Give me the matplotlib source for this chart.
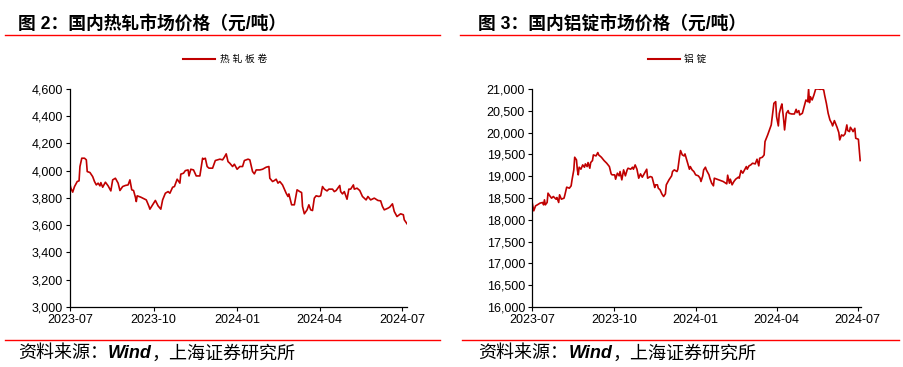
import numpy as np
import pandas as pd
import matplotlib
matplotlib.use("Agg")
from matplotlib import pyplot as plt
import matplotlib.dates as mdates
from matplotlib.lines import Line2D
from matplotlib.text import Annotation
from matplotlib.ticker import FuncFormatter

# 热轧板卷 (元/吨)
hr_dates = [
    "2023-07-01", "2023-07-02", "2023-07-04", "2023-07-06", "2023-07-09", "2023-07-11",
    "2023-07-12", "2023-07-14", "2023-07-17", "2023-07-19", "2023-07-20", "2023-07-23",
    "2023-07-26", "2023-07-28", "2023-07-30", "2023-08-01", "2023-08-03", "2023-08-04",
    "2023-08-06", "2023-08-09", "2023-08-12", "2023-08-15", "2023-08-17", "2023-08-20",
    "2023-08-23", "2023-08-25", "2023-08-28", "2023-08-31", "2023-09-03", "2023-09-05",
    "2023-09-07", "2023-09-09", "2023-09-11", "2023-09-12", "2023-09-13", "2023-09-17",
    "2023-09-23", "2023-09-26", "2023-09-27", "2023-09-30", "2023-10-03", "2023-10-06",
    "2023-10-09", "2023-10-11", "2023-10-14", "2023-10-17", "2023-10-19", "2023-10-22",
    "2023-10-24", "2023-10-27", "2023-10-30", "2023-10-31", "2023-11-03", "2023-11-05",
    "2023-11-08", "2023-11-09", "2023-11-11", "2023-11-14", "2023-11-17", "2023-11-21",
    "2023-11-22", "2023-11-24", "2023-11-25", "2023-11-27", "2023-11-29", "2023-12-01",
    "2023-12-05", "2023-12-08", "2023-12-13", "2023-12-16", "2023-12-18", "2023-12-20",
    "2023-12-22", "2023-12-24", "2023-12-27", "2023-12-29", "2024-01-01", "2024-01-04",
    "2024-01-07", "2024-01-09", "2024-01-13", "2024-01-15", "2024-01-18", "2024-01-20",
    "2024-01-22", "2024-01-26", "2024-01-29", "2024-02-02", "2024-02-05", "2024-02-06",
    "2024-02-09", "2024-02-11", "2024-02-13", "2024-02-15", "2024-02-17", "2024-02-20",
    "2024-02-24", "2024-02-26", "2024-02-27", "2024-03-01", "2024-03-04", "2024-03-07",
    "2024-03-10", "2024-03-12", "2024-03-13", "2024-03-15", "2024-03-18", "2024-03-20",
    "2024-03-22", "2024-03-24", "2024-03-26", "2024-03-28", "2024-03-31", "2024-04-02",
    "2024-04-04", "2024-04-06", "2024-04-09", "2024-04-11", "2024-04-15", "2024-04-17",
    "2024-04-19", "2024-04-23", "2024-04-24", "2024-04-26", "2024-04-28", "2024-05-01",
    "2024-05-03", "2024-05-05", "2024-05-08", "2024-05-09", "2024-05-12", "2024-05-15",
    "2024-05-18", "2024-05-22", "2024-05-24", "2024-05-27", "2024-05-31", "2024-06-04",
    "2024-06-07", "2024-06-09", "2024-06-11", "2024-06-15", "2024-06-17", "2024-06-20",
    "2024-06-22", "2024-06-25", "2024-06-27", "2024-06-29", "2024-07-02", "2024-07-03",
    "2024-07-06",
]
hr_price = [
    3901, 3872, 3843, 3884, 3921, 3926, 4031, 4092, 4092, 4080, 3994, 3987,
    3957, 3921, 3896, 3909, 3889, 3913, 3879, 3916, 3889, 3852, 3933, 3945,
    3909, 3855, 3884, 3892, 3896, 3933, 3860, 3855, 3806, 3774, 3816, 3806,
    3786, 3738, 3718, 3750, 3782, 3742, 3718, 3786, 3835, 3847, 3835, 3879,
    3884, 3938, 3909, 3975, 3982, 4001, 4006, 3962, 4011, 4006, 3962, 3962,
    4006, 4092, 4085, 4092, 4031, 4019, 4019, 4075, 4085, 4080, 4100, 4124,
    4067, 4055, 4031, 4048, 4011, 4031, 4031, 4075, 4085, 4080, 3994, 3977,
    4006, 4006, 4011, 4026, 4031, 3945, 3921, 3928, 3938, 3909, 3921, 3896,
    3835, 3811, 3830, 3750, 3750, 3860, 3847, 3840, 3738, 3684, 3713, 3750,
    3713, 3708, 3799, 3816, 3811, 3816, 3884, 3865, 3852, 3865, 3865, 3847,
    3855, 3892, 3847, 3830, 3847, 3791, 3865, 3865, 3896, 3865, 3872, 3855,
    3811, 3786, 3811, 3786, 3799, 3782, 3779, 3738, 3713, 3725, 3733, 3757,
    3701, 3664, 3674, 3684, 3677, 3640, 3611,
]

# 铝锭 (元/吨)
al_dates = [
    "2023-07-01", "2023-07-02", "2023-07-03", "2023-07-05", "2023-07-07", "2023-07-10",
    "2023-07-13", "2023-07-14", "2023-07-15", "2023-07-16", "2023-07-18", "2023-07-19",
    "2023-07-21", "2023-07-23", "2023-07-25", "2023-07-28", "2023-07-29", "2023-07-31",
    "2023-08-01", "2023-08-03", "2023-08-06", "2023-08-07", "2023-08-09", "2023-08-12",
    "2023-08-14", "2023-08-15", "2023-08-17", "2023-08-18", "2023-08-20", "2023-08-21",
    "2023-08-22", "2023-08-23", "2023-08-25", "2023-08-27", "2023-08-29", "2023-08-30",
    "2023-09-01", "2023-09-02", "2023-09-04", "2023-09-05", "2023-09-07", "2023-09-08",
    "2023-09-11", "2023-09-13", "2023-09-14", "2023-09-17", "2023-09-20", "2023-09-23",
    "2023-09-26", "2023-09-28", "2023-09-29", "2023-10-02", "2023-10-03", "2023-10-05",
    "2023-10-07", "2023-10-08", "2023-10-10", "2023-10-12", "2023-10-14", "2023-10-16",
    "2023-10-17", "2023-10-20", "2023-10-22", "2023-10-23", "2023-10-25", "2023-10-27",
    "2023-10-29", "2023-10-31", "2023-11-02", "2023-11-05", "2023-11-07", "2023-11-08",
    "2023-11-11", "2023-11-13", "2023-11-14", "2023-11-16", "2023-11-17", "2023-11-19",
    "2023-11-20", "2023-11-22", "2023-11-24", "2023-11-26", "2023-11-28", "2023-11-29",
    "2023-12-02", "2023-12-05", "2023-12-06", "2023-12-08", "2023-12-11", "2023-12-12",
    "2023-12-14", "2023-12-15", "2023-12-17", "2023-12-19", "2023-12-20", "2023-12-22",
    "2023-12-23", "2023-12-25", "2023-12-26", "2023-12-28", "2023-12-30", "2024-01-01",
    "2024-01-04", "2024-01-06", "2024-01-07", "2024-01-09", "2024-01-10", "2024-01-12",
    "2024-01-13", "2024-01-16", "2024-01-17", "2024-01-19", "2024-01-21", "2024-01-22",
    "2024-01-27", "2024-02-01", "2024-02-05", "2024-02-06", "2024-02-08", "2024-02-09",
    "2024-02-11", "2024-02-13", "2024-02-15", "2024-02-18", "2024-02-19", "2024-02-21",
    "2024-02-23", "2024-02-25", "2024-02-27", "2024-02-28", "2024-03-01", "2024-03-03",
    "2024-03-05", "2024-03-08", "2024-03-10", "2024-03-12", "2024-03-13", "2024-03-16",
    "2024-03-18", "2024-03-19", "2024-03-22", "2024-03-24", "2024-03-26", "2024-03-28",
    "2024-03-29", "2024-03-31", "2024-04-01", "2024-04-03", "2024-04-04", "2024-04-06",
    "2024-04-07", "2024-04-09", "2024-04-10", "2024-04-11", "2024-04-12", "2024-04-14",
    "2024-04-15", "2024-04-18", "2024-04-21", "2024-04-23", "2024-04-24", "2024-04-26",
    "2024-04-27", "2024-04-30", "2024-05-03", "2024-05-04", "2024-05-06", "2024-05-07",
    "2024-05-08", "2024-05-09", "2024-05-11", "2024-05-13", "2024-05-15", "2024-05-18",
    "2024-05-20", "2024-05-22", "2024-05-24", "2024-05-25", "2024-05-27", "2024-05-29",
    "2024-05-31", "2024-06-02", "2024-06-03", "2024-06-05", "2024-06-08", "2024-06-10",
    "2024-06-11", "2024-06-13", "2024-06-15", "2024-06-17", "2024-06-19", "2024-06-20",
    "2024-06-22", "2024-06-23", "2024-06-25", "2024-06-26", "2024-06-28", "2024-06-29",
    "2024-07-02", "2024-07-03", "2024-07-04",
]
al_price = [
    18420, 18305, 18206, 18320, 18343, 18382, 18397, 18343, 18458, 18343, 18397, 18611,
    18550, 18496, 18534, 18473, 18511, 18397, 18573, 18473, 18496, 18573, 18748, 18725,
    18779, 18916, 19145, 19435, 19374, 19145, 19031, 19206, 19160, 19259, 19206, 19282,
    19221, 19313, 19183, 19313, 19359, 19488, 19465, 19542, 19488, 19435, 19359, 19298,
    19221, 19053, 19031, 19031, 18931, 19069, 19008, 19107, 18916, 19145, 19008, 19145,
    19183, 19160, 19206, 19160, 19259, 19160, 18954, 19053, 18977, 19084, 19160, 18954,
    18992, 18977, 18901, 18740, 18802, 18802, 18725, 18687, 18595, 18534, 18595, 18802,
    18916, 19008, 19107, 19145, 19107, 19160, 19465, 19588, 19488, 19465, 19511, 19374,
    19313, 19160, 19221, 19145, 19107, 19031, 19008, 18954, 18878, 19008, 19145, 19206,
    19145, 19031, 18954, 18840, 18779, 18954, 18916, 18878, 18824, 19023, 18840, 18931,
    18802, 18878, 18931, 18977, 18954, 19130, 19069, 19145, 19221, 19160, 19237, 19259,
    19298, 19282, 19389, 19237, 19412, 19435, 19488, 19794, 19947, 20061, 20176, 20519,
    20672, 20710, 20366, 20153, 20435, 20595, 20657, 20290, 20061, 20252, 20443, 20504,
    20443, 20427, 20427, 20534, 20458, 20504, 20405, 20443, 20672, 20748, 20710, 21000,
    20687, 20824, 20748, 20863, 21000, 21000, 20992, 21000, 20977, 20863, 20672, 20443,
    20290, 20214, 20153, 20275, 20122, 20000, 19832, 19947, 19924, 19970, 20176, 20046,
    20023, 20122, 20061, 20023, 20099, 19870, 19847, 19603, 19359,
]

quarter_ticks = ["2023-07-01", "2023-10-01", "2024-01-01", "2024-04-01", "2024-07-01"]

plt.rcParams['font.family'] = ['Liberation Sans', 'Noto Sans CJK SC', 'DejaVu Sans']

LINE_RED = '#c00000'
RULE_RED = '#ff0000'

fig = plt.figure(figsize=(9.04, 3.67), dpi=100)


def draw_panel(left, width, dates, values, ylim, ystep, xend):
    ax = fig.add_axes([left, 0.1635, width, 0.594])
    x = pd.to_datetime(dates)
    ax.plot(x, values, '-', color=LINE_RED, linewidth=1.2)
    ax.set_xlim(pd.Timestamp("2023-07-01"), pd.Timestamp(xend))
    ax.set_ylim(*ylim)
    ax.set_yticks(np.arange(ylim[0], ylim[1] + 1, ystep))
    ax.yaxis.set_major_formatter(FuncFormatter(lambda v, p: f"{int(v):,}"))
    ax.set_xticks(pd.to_datetime(quarter_ticks))
    ax.xaxis.set_major_formatter(mdates.DateFormatter("%Y-%m"))
    for s in ['top', 'right']:
        ax.spines[s].set_visible(False)
    for s in ['left', 'bottom']:
        ax.spines[s].set_linewidth(0.9)
    ax.tick_params(axis='both', direction='out', length=3, width=0.8,
                   labelsize=9, colors='black', pad=2)
    return ax


def source_line(x):
    # 资料来源 line: CJK parts plain, "Wind" bold italic
    t1 = fig.text(x, 0.036, "资料来源：", fontsize=13, va='center', ha='left')
    t2 = Annotation("Wind", xy=(1, 0.5), xycoords=t1, xytext=(0, 0),
                    textcoords='offset points', fontsize=13, fontweight='bold',
                    style='italic', va='center', ha='left')
    fig.add_artist(t2)
    t3 = Annotation("，上海证券研究所", xy=(1, 0.5), xycoords=t2, xytext=(0, 0),
                    textcoords='offset points', fontsize=13, va='center', ha='left')
    fig.add_artist(t3)


draw_panel(0.0774, 0.3728, hr_dates, hr_price, (3000, 4600), 200, "2024-07-06")
draw_panel(0.5885, 0.3640, al_dates, al_price, (16000, 21000), 500, "2024-07-05")

# titles and rules
fig.text(0.020, 0.935, "图 2：国内热轧市场价格（元/吨）", fontsize=12.8, fontweight='bold',
         va='center', ha='left')
fig.text(0.529, 0.935, "图 3：国内铝锭市场价格（元/吨）", fontsize=12.8, fontweight='bold',
         va='center', ha='left')
fig.add_artist(Line2D([0.0055, 0.487], [0.905, 0.905], color=RULE_RED, linewidth=1.0))
fig.add_artist(Line2D([0.509, 0.994], [0.905, 0.905], color=RULE_RED, linewidth=1.0))

# legends
fig.add_artist(Line2D([0.2025, 0.238], [0.839, 0.839], color=LINE_RED, linewidth=1.5))
fig.text(0.243, 0.839, "热 轧 板 卷", fontsize=7, va='center', ha='left')
fig.add_artist(Line2D([0.717, 0.752], [0.839, 0.839], color=LINE_RED, linewidth=1.5))
fig.text(0.757, 0.839, "铝 锭", fontsize=7, va='center', ha='left')

# source
fig.add_artist(Line2D([0.0055, 0.487], [0.074, 0.074], color=RULE_RED, linewidth=1.0))
fig.add_artist(Line2D([0.511, 0.994], [0.074, 0.074], color=RULE_RED, linewidth=1.0))
source_line(0.020)
source_line(0.529)

fig.savefig("out.png", dpi=100)
